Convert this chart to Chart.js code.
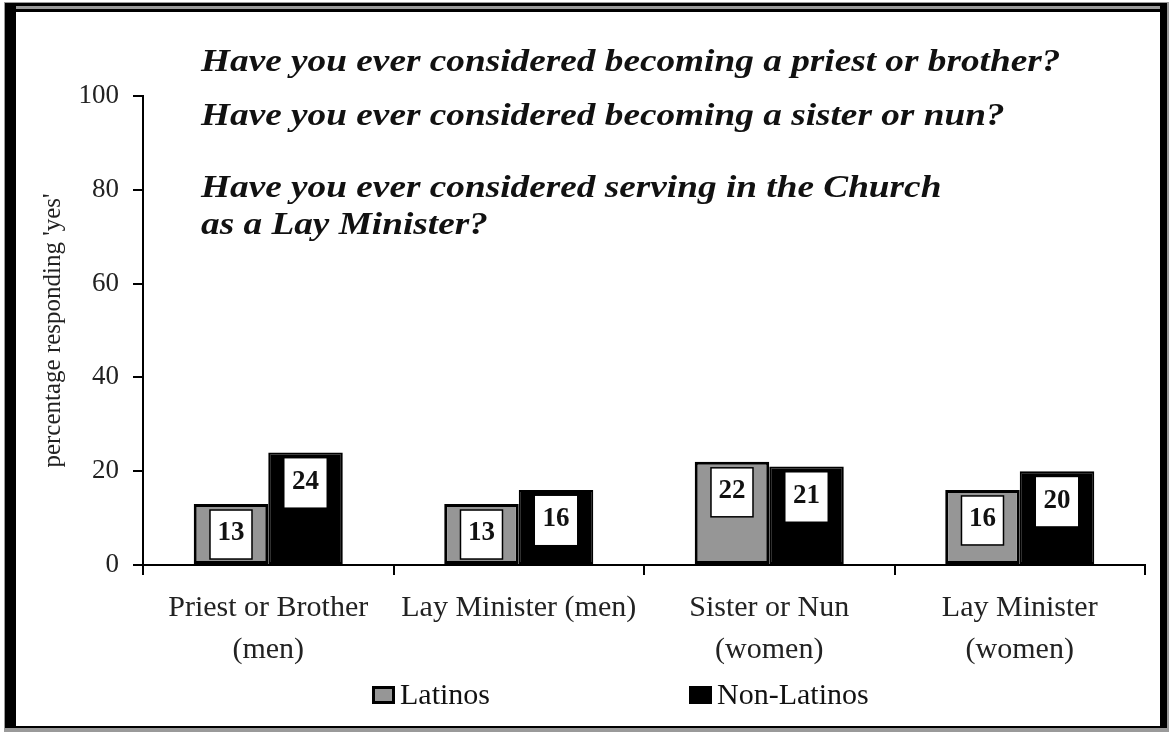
<!DOCTYPE html>
<html>
<head>
<meta charset="utf-8">
<script src="https://cdn.jsdelivr.net/npm/chart.js@4/dist/chart.umd.min.js"></script>
<style>
  html, body { margin: 0; padding: 0; background: #fff; }
  #wrap { width: 1171px; height: 732px; }
</style>
</head>
<body>
<div id="wrap"><canvas id="vocations"></canvas></div>
<script>
const categories = [
  ['Priest or Brother', '(men)'],
  ['Lay Minister (men)'],
  ['Sister or Nun', '(women)'],
  ['Lay Minister', '(women)']
]
const latinos = [13, 13, 22, 16]
const nonLatinos = [24, 16, 21, 20]
const yTicks = [0, 20, 40, 60, 80, 100]
const questions = [
  'Have you ever considered becoming a priest or brother?',
  'Have you ever considered becoming a sister or nun?',
  'Have you ever considered serving in the Church',
  'as a Lay Minister?'
]

const serif = '"Liberation Serif", "Times New Roman", serif'

// page border: thick black frame with thin double rule on top
const frame = {
  id: 'frame',
  beforeDraw(chart) {
    const c = chart.ctx
    c.save()
    c.fillStyle = '#fff'
    c.fillRect(0, 0, chart.width, chart.height)
    c.fillStyle = '#9a9a9a'
    c.fillRect(4, 2, 1165, 730)
    c.fillStyle = '#fff'
    c.fillRect(16, 12, 1144, 714)
    c.fillStyle = '#000'
    c.fillRect(5, 3, 1162, 3)
    c.fillRect(5, 9, 1162, 3)
    c.fillRect(5, 3, 11, 725)
    c.fillRect(1160, 3, 7, 725)
    c.fillRect(5, 726, 1162, 2)
    c.restore()
  }
}

// the survey questions, written in the empty top of the plot (wide bold italic)
const questionText = {
  id: 'questionText',
  afterDraw(chart) {
    const c = chart.ctx
    const baselines = [71, 125, 197, 234]
    const left = 201
    c.save()
    c.fillStyle = '#111'
    c.font = 'italic bold 32px ' + serif
    c.textBaseline = 'alphabetic'
    c.translate(left, 0)
    c.scale(1.165, 1)
    questions.forEach((q, i) => c.fillText(q, 0, baselines[i]))
    c.restore()
  }
}

// white value boxes inside the top of each bar
const valueBoxes = {
  id: 'valueBoxes',
  afterDatasetsDraw(chart) {
    const c = chart.ctx
    c.save()
    chart.data.datasets.forEach((ds, di) => {
      chart.getDatasetMeta(di).data.forEach((bar, i) => {
        const w = 42, h = 49
        const x = bar.x - w / 2
        const y = bar.y + 6
        c.fillStyle = '#fff'
        c.fillRect(x, y, w, h)
        if (di === 0) {
          c.strokeStyle = '#000'
          c.lineWidth = 1.5
          c.strokeRect(x, y, w, h)
        }
        c.fillStyle = '#111'
        c.font = 'bold 27px ' + serif
        c.textAlign = 'center'
        c.textBaseline = 'middle'
        c.fillText(ds.data[i], bar.x, y + h / 2 - 1)
      })
    })
    c.restore()
  }
}

// legend along the bottom
const bottomLegend = {
  id: 'bottomLegend',
  afterDraw(chart) {
    const c = chart.ctx
    const startX = [372, 689]
    const midY = 695
    c.save()
    c.font = '30px ' + serif
    c.textBaseline = 'middle'
    chart.data.datasets.forEach((ds, i) => {
      const x = startX[i]
      c.fillStyle = '#000'
      c.fillRect(x, midY - 9, 23, 18)
      c.fillStyle = ds.backgroundColor
      c.fillRect(x + 3, midY - 6, 17, 12)
      c.fillStyle = '#111'
      c.fillText(ds.label, x + 28, midY + 1)
    })
    c.restore()
  }
}

const ctx = document.getElementById('vocations').getContext('2d')
const chart = new Chart(ctx, {
  type: 'bar',
  data: {
    labels: categories,
    datasets: [{
      label: 'Latinos',
      data: latinos,
      backgroundColor: '#969696',
      borderColor: '#000',
      borderWidth: 3,
      borderSkipped: false
    }, {
      label: 'Non-Latinos',
      data: nonLatinos,
      backgroundColor: '#000',
      borderColor: '#000',
      borderWidth: 2,
      borderSkipped: false
    }]
  },
  options: {
    responsive: true,
    maintainAspectRatio: false,
    animation: false,
    layout: {
      padding: { top: 96, left: 0, right: 26, bottom: 0 }
    },
    datasets: {
      bar: { categoryPercentage: 0.595, barPercentage: 1.0 }
    },
    scales: {
      x: {
        afterFit(scale) { scale.height = 167 },
        border: { display: true, color: '#000', width: 2 },
        grid: {
          offset: true,
          drawOnChartArea: false,
          drawTicks: true,
          tickLength: 10,
          color: '#000',
          lineWidth: 2
        },
        ticks: {
          color: '#222',
          padding: 12,
          maxRotation: 0,
          autoSkip: false,
          font: { family: serif, size: 30, lineHeight: 1.4 }
        }
      },
      y: {
        min: 0,
        max: 100,
        afterFit(scale) { scale.width = 143 },
        afterBuildTicks(scale) { scale.ticks = yTicks.map(v => ({ value: v })) },
        border: { display: true, color: '#000', width: 2 },
        grid: {
          drawOnChartArea: false,
          drawTicks: true,
          tickLength: 10,
          color: '#000',
          lineWidth: 2
        },
        ticks: {
          color: '#222',
          padding: 14,
          font: { family: serif, size: 27 }
        },
        title: {
          display: true,
          text: "percentage responding 'yes'",
          color: '#222',
          padding: { top: 38, bottom: 0 },
          font: { family: serif, size: 25 }
        }
      }
    },
    plugins: {
      legend: { display: false },
      tooltip: { enabled: false }
    }
  },
  plugins: [frame, questionText, valueBoxes, bottomLegend]
})
</script>
</body>
</html>
